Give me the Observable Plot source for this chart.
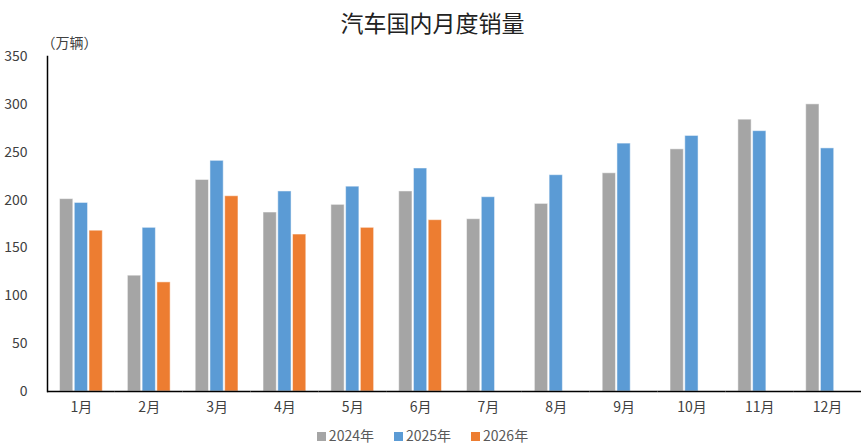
<!DOCTYPE html>
<html><head><meta charset="utf-8">
<script src="https://cdn.jsdelivr.net/npm/d3@7"></script>
<script src="https://cdn.jsdelivr.net/npm/@observablehq/plot@0.6"></script>
<style>
body{margin:0;background:#fff;font-family:"Noto Sans CJK SC","Noto Sans",sans-serif;}
#title{height:36px;line-height:44px;text-align:center;font-size:23px;color:#222;overflow:visible;}
#legend{display:flex;justify-content:center;gap:20px;font-size:14px;color:#595959;height:25px;align-items:center;padding-right:20px;}
#legend span.sw{display:inline-block;width:9px;height:9px;margin-right:3px;}
</style></head>
<body>
<div id="title">汽车国内月度销量</div>
<div id="chart"></div>
<div id="legend"></div>
<script>
const months = ["1月","2月","3月","4月","5月","6月","7月","8月","9月","10月","11月","12月"];
const years = ["2024年","2025年","2026年"];
const v2024 = [201,121,221,187,195,209,180,196,228,253,284,300];
const v2025 = [197,171,241,209,214,233,203,226,259,267,272,254];
const v2026 = [168,114,204,164,171,179];
const colors = ["#A5A5A5","#5B9BD5","#ED7D31"];
const yTicks = [0,50,100,150,200,250,300,350];
const unitLabel = "（万辆）";

const series = [v2024, v2025, v2026];
const data = [];
series.forEach((vals, i) => vals.forEach((v, j) => data.push({month: months[j], year: years[i], value: v})));

const chart = Plot.plot({
  width: 865, height: 386,
  marginLeft: 47, marginRight: 4, marginTop: 20, marginBottom: 31,
  style: {fontFamily: '"Noto Sans CJK SC","Noto Sans",sans-serif', fontSize: "14px", color: "#404040", overflow: "visible"},
  fx: {domain: months, padding: 0, round: false, label: null},
  x: {domain: years, paddingInner: 0.1, paddingOuter: 0.85, round: false, axis: null},
  y: {domain: [0, 350], label: null},
  color: {domain: years, range: colors},
  marks: [
    Plot.barY(data, {fx: "month", x: "year", y: "value", fill: "year", stroke: "#ffffff", strokeOpacity: 0.5, strokeWidth: 1}),
    Plot.ruleY([0], {stroke: "#000", strokeWidth: 1.5}),
    Plot.frame({anchor: "left", facetAnchor: "left", stroke: "#000", strokeWidth: 1.5}),
    Plot.axisY({ticks: yTicks, tickSize: 0, tickPadding: 20, label: null, fontSize: 14}),
    Plot.axisFx({anchor: "bottom", tickSize: 0, tickPadding: 11, label: null, fontSize: 14}),
    Plot.text([unitLabel], {facetAnchor: "left", frameAnchor: "top-left", lineAnchor: "middle", textAnchor: "start", dx: -6, dy: -13, text: d => d, fontSize: 14, fill: "#404040"})
  ]
});
document.getElementById("chart").appendChild(chart);

const legend = document.getElementById("legend");
years.forEach((y, i) => {
  const item = document.createElement("div");
  item.innerHTML = `<span class="sw" style="background:${colors[i]}"></span>${y}`;
  legend.appendChild(item);
});
</script>
</body></html>
